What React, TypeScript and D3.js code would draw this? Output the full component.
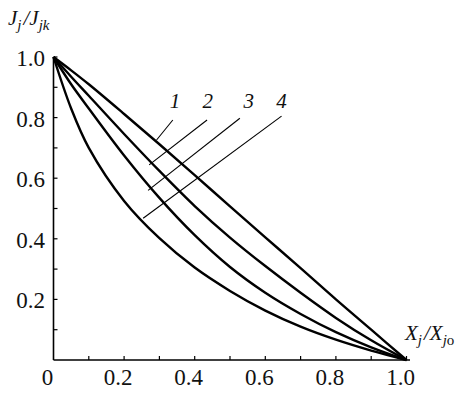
import React, { useEffect } from 'react';
import * as d3 from 'd3';

// Relative coordinate X_j/X_jo (shared by all curves)
const xValues = [0, 0.05, 0.1, 0.2, 0.3, 0.4, 0.5, 0.6, 0.7, 0.8, 0.9, 1.0];

// J_j/J_jk for each curve
const curve1 = [1.0, 0.956, 0.91, 0.812, 0.712, 0.61, 0.507, 0.405, 0.303, 0.2, 0.1, 0];
const curve2 = [1.0, 0.935, 0.872, 0.746, 0.624, 0.508, 0.404, 0.31, 0.222, 0.139, 0.065, 0];
const curve3 = [1.0, 0.91, 0.83, 0.675, 0.535, 0.412, 0.307, 0.222, 0.152, 0.092, 0.042, 0];
const curve4 = [1.0, 0.83, 0.7, 0.525, 0.402, 0.305, 0.228, 0.163, 0.11, 0.067, 0.031, 0];

const curveLabels = ['1', '2', '3', '4'];
const xTickLabels = ['0', '0.2', '0.4', '0.6', '0.8', '1.0'];
const yTickLabels = ['0.2', '0.4', '0.6', '0.8', '1.0'];

// Leader lines in data units: [labelX, fromX, fromY, toX, toY]
const leaders = [
  [0.344, 0.338, 0.792, 0.292, 0.726],
  [0.437, 0.435, 0.792, 0.271, 0.644],
  [0.553, 0.528, 0.798, 0.268, 0.56],
  [0.646, 0.646, 0.805, 0.254, 0.468],
];

const width = 472;
const height = 397;
const FONT = 'Liberation Serif';

const App = () => {
  useEffect(() => {
    document.body.style.margin = '0';
  }, []);

  const x = d3.scaleLinear().domain([0, 1]).range([53.5, 406.5]);
  const y = d3.scaleLinear().domain([0, 1]).range([360, 57]);

  const series = [curve1, curve2, curve3, curve4];
  const line = d3
    .line<number>()
    .x((_, i) => x(xValues[i]))
    .y((d) => y(d))
    .curve(d3.curveCatmullRom.alpha(0.5));

  const minorTicks = d3.range(1, 11).map((i) => i / 10);

  return (
    <svg width={width} height={height} style={{ display: 'block', background: '#fff' }}>
      {/* axes */}
      <line x1={x(0)} x2={x(1) + 3.5} y1={y(0)} y2={y(0)} stroke="#000" strokeWidth={1.6} />
      <line x1={x(0)} x2={x(0)} y1={y(0)} y2={y(1)} stroke="#000" strokeWidth={1.6} />
      {minorTicks.map((t) => (
        <line key={'xt' + t} x1={x(t)} x2={x(t)} y1={y(0)} y2={y(0) - 4} stroke="#000" strokeWidth={1.2} />
      ))}
      {minorTicks.map((t) => (
        <line key={'yt' + t} x1={x(0)} x2={x(0) + 4} y1={y(t)} y2={y(t)} stroke="#000" strokeWidth={1.2} />
      ))}
      {xTickLabels.map((s) => (
        <text key={'xl' + s} x={x(+s) - 6} y={385} fontFamily={FONT} fontSize={23} textAnchor="middle" fill="#111">
          {s}
        </text>
      ))}
      {yTickLabels.map((s) => (
        <text key={'yl' + s} x={45} y={y(+s) + 9} fontFamily={FONT} fontSize={23} textAnchor="end" fill="#111">
          {s}
        </text>
      ))}

      {/* axis titles */}
      <text x={8} y={25} fontFamily={FONT} fontSize={21} fontStyle="italic" fill="#111">
        J
        <tspan fontSize={15} dy={5}>j</tspan>
        <tspan dy={-5} dx={2}>/J</tspan>
        <tspan fontSize={15} dy={5}>jk</tspan>
      </text>
      <text x={405} y={340} fontFamily={FONT} fontSize={21} fontStyle="italic" fill="#111">
        X
        <tspan fontSize={15} dy={5}>j</tspan>
        <tspan dy={-5} dx={2}>/X</tspan>
        <tspan fontSize={15} dy={5}>j</tspan>
        <tspan fontSize={15} fontStyle="normal">o</tspan>
      </text>

      {/* curves */}
      {series.map((s, i) => (
        <path key={'c' + i} d={line(s) ?? ''} fill="none" stroke="#000" strokeWidth={2.4} />
      ))}

      {/* leader lines and curve numbers */}
      {leaders.map((l, i) => (
        <g key={'ld' + i}>
          <line x1={x(l[1])} y1={y(l[2])} x2={x(l[3])} y2={y(l[4])} stroke="#000" strokeWidth={1.1} />
          <text x={x(l[0])} y={108} fontFamily={FONT} fontSize={21} fontStyle="italic" textAnchor="middle" fill="#111">
            {curveLabels[i]}
          </text>
        </g>
      ))}
    </svg>
  );
};

export default App;
